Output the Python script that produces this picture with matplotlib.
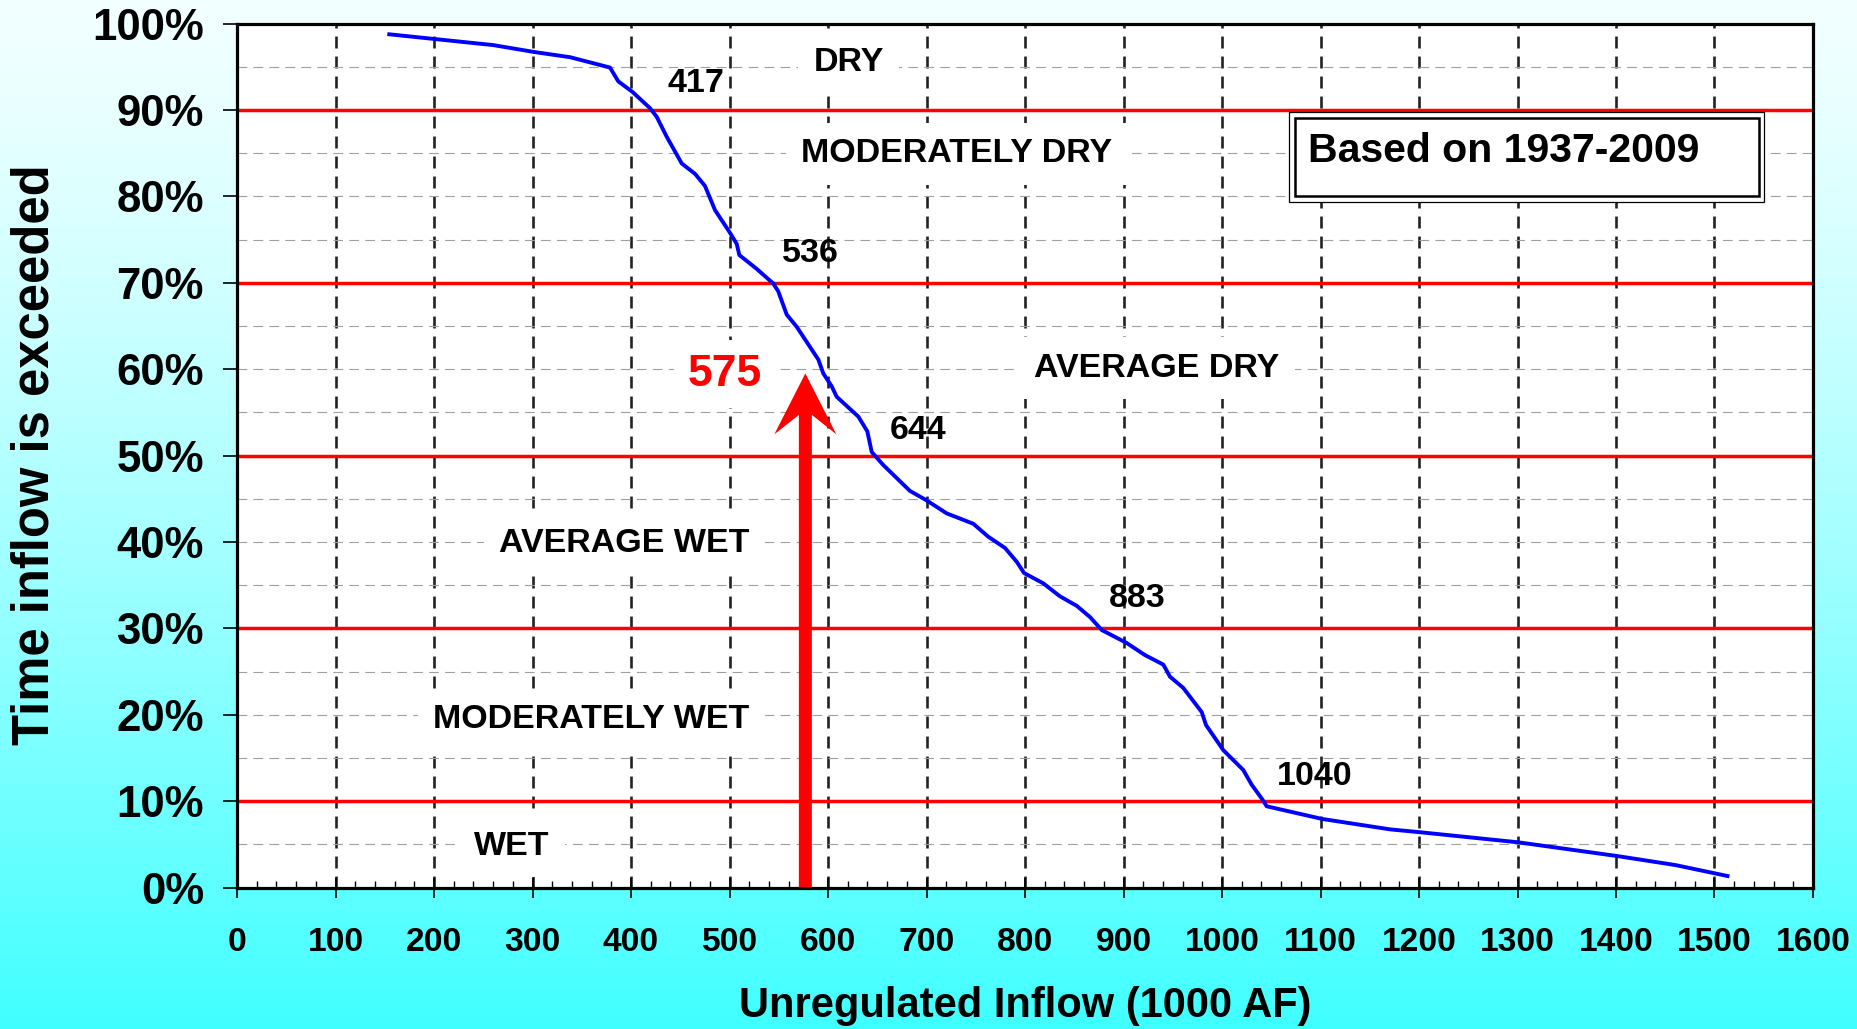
import numpy as np
import matplotlib
matplotlib.use("Agg")
import matplotlib.pyplot as plt
from matplotlib.patches import Rectangle, Polygon
from matplotlib.ticker import MultipleLocator

plt.rcParams['font.family'] = ['Liberation Sans', 'DejaVu Sans']
plt.rcParams['font.weight'] = 'bold'
plt.rcParams['lines.scale_dashes'] = False

# ---------------- data ----------------
inflow = [154.6, 201.0, 260.2, 301.8, 338.1, 378.7, 387.1, 401.3, 419.3, 426.1,
          436.2, 451.5, 465.0, 475.1, 485.3, 499.8, 507.3, 510.0, 527.6, 544.5,
          549.5, 558.1, 568.2, 590.2, 595.2, 603.8, 608.8, 630.8, 639.9, 644.4,
          656.1, 683.2, 700.2, 720.5, 747.5, 762.7, 779.7, 791.6, 799.0, 818.6,
          835.5, 852.5, 866.0, 877.9, 903.2, 921.8, 940.4, 947.2, 960.7, 979.4,
          983.8, 1001.3, 1021.6, 1030.1, 1040.3, 1045.4, 1101.9, 1170.6, 1202.5,
          1300.7, 1401.3, 1460.2, 1513.2]
exceedance = [98.75, 98.2, 97.5, 96.7, 96.1, 94.9, 93.3, 92.1, 90.2, 89.2,
              86.9, 83.8, 82.6, 81.2, 78.4, 75.9, 74.5, 73.2, 71.6, 69.9,
              69.0, 66.3, 64.9, 61.1, 59.5, 58.0, 56.8, 54.5, 52.8, 50.4,
              48.9, 45.9, 44.8, 43.3, 42.1, 40.6, 39.3, 37.7, 36.4, 35.2,
              33.7, 32.6, 31.3, 29.8, 28.3, 26.9, 25.8, 24.4, 23.1, 20.3,
              18.8, 15.9, 13.6, 11.9, 10.3, 9.4, 7.93, 6.73, 6.38,
              5.23, 3.64, 2.6, 1.33]

class_bounds = [10, 30, 50, 70, 90]

region_names = ["DRY", "MODERATELY DRY", "AVERAGE DRY", "AVERAGE WET",
                "MODERATELY WET", "WET"]
region_x = [621, 731, 934, 393, 360, 279]
region_y = [95.5, 84.9, 60.1, 39.8, 19.4, 4.8]

bound_labels = ["417", "536", "644", "883", "1040"]
bound_label_x = [466, 582, 691, 914, 1094]
bound_label_y = [93.1, 73.4, 52.95, 33.4, 12.85]

current_label = "575"
current_x = 577
current_tip = 59.5
current_label_xy = (495, 59.4)

x_ticks = list(range(0, 1601, 100))
y_ticks = list(range(0, 101, 10))
y_minor = list(range(5, 100, 10))

note_text = "Based on 1937-2009"

# ---------------- figure ----------------
fig = plt.figure(figsize=(18.58, 10.29), dpi=100)

bg = fig.add_axes([0, 0, 1, 1], zorder=-10)
t = np.linspace(0, 1, 512) ** 1.3
red = (242 - 178 * t) / 255.0
grad = np.zeros((512, 2, 3))
grad[:, :, 0] = red[:, None]
grad[:, :, 1] = 1.0
grad[:, :, 2] = 1.0
bg.imshow(grad, aspect='auto', extent=[0, 1, 0, 1], origin='upper')
bg.set_axis_off()

ax = fig.add_axes([0.12756, 0.13751, 0.84822, 0.83965])
ax.set_facecolor('white')
ax.set_xlim(0, 1600)
ax.set_ylim(0, 100)

for s in ax.spines.values():
    s.set_linewidth(2.3)
    s.set_color('black')

ax.set_xticks(x_ticks)
ax.set_xticklabels([str(v) for v in x_ticks])
ax.xaxis.set_minor_locator(MultipleLocator(20))
ax.set_yticks(y_ticks)
ax.set_yticklabels([f"{v}%" for v in y_ticks])
ax.set_yticks(y_minor, minor=True)

ax.tick_params(axis='x', which='major', direction='inout', length=14.4, width=1.2,
               pad=21.0, labelsize=24.2)
ax.tick_params(axis='x', which='minor', direction='in', length=5, width=1.0)
ax.tick_params(axis='y', which='major', direction='out', length=10, width=1.2,
               pad=13.8, labelsize=31.5)
ax.tick_params(axis='y', which='minor', length=0)

ax.set_axisbelow(True)
ax.grid(axis='x', which='major', color='#222222', linewidth=1.9,
        linestyle=(0, (8.6, 5.8)))
ax.grid(axis='y', which='both', color='#a0a0a0', linewidth=0.8,
        linestyle=(0, (7, 4.5)))

for b in class_bounds:
    ax.axhline(b, color='#ff0000', linewidth=2.5, zorder=2)

ax.plot(inflow, exceedance, color='#0000ff', linewidth=2.8, zorder=4,
        solid_joinstyle='round')

for name, x, y in zip(region_names, region_x, region_y):
    ax.text(x, y, name, ha='center', va='center', fontsize=24.5, fontweight='bold',
            zorder=3, bbox=dict(facecolor='white', edgecolor='none',
                                boxstyle='square,pad=0.45'))

for lab, x, y in zip(bound_labels, bound_label_x, bound_label_y):
    ax.text(x, y, lab, ha='center', va='center', fontsize=24.5, fontweight='bold',
            zorder=3)

ax.text(current_label_xy[0], current_label_xy[1], current_label, ha='center',
        va='center', fontsize=32, fontweight='bold', color='#ff0000', zorder=3,
        bbox=dict(facecolor='white', edgecolor='none', boxstyle='square,pad=0.3'))

# arrow (barbed head)
shaft_half, head_half = 6.6, 31.5
notch_y, wing_y = current_tip - 4.8, current_tip - 7.05
arrow = Polygon([(current_x - shaft_half, 0), (current_x - shaft_half, notch_y),
                 (current_x - head_half, wing_y), (current_x, current_tip),
                 (current_x + head_half, wing_y), (current_x + shaft_half, notch_y),
                 (current_x + shaft_half, 0)],
                closed=True, facecolor='#ff0000', edgecolor='none', zorder=5)
ax.add_patch(arrow)

# note box
ax.add_patch(Rectangle((0.6677, 0.7938), 0.9689 - 0.6677, 0.8972 - 0.7938,
                       transform=ax.transAxes, facecolor='white', edgecolor='black',
                       linewidth=0.9, zorder=3))
ax.add_patch(Rectangle((0.6713, 0.8003), 0.9656 - 0.6713, 0.8910 - 0.8003,
                       transform=ax.transAxes, facecolor='none', edgecolor='black',
                       linewidth=1.8, zorder=3))
ax.text(0.6796, 0.8525, note_text, transform=ax.transAxes, ha='left', va='center',
        fontsize=29.5, fontweight='bold', zorder=4)

fig.text(1025 / 1858, 1 - 1006 / 1029, "Unregulated Inflow (1000 AF)", ha='center',
         va='center', fontsize=30, fontweight='bold')
fig.text(35 / 1858, 1 - 455 / 1029, "Time inflow is exceeded", ha='center',
         va='center', rotation=90, fontsize=36.5, fontweight='bold')

fig.savefig("out.png", dpi=100)
